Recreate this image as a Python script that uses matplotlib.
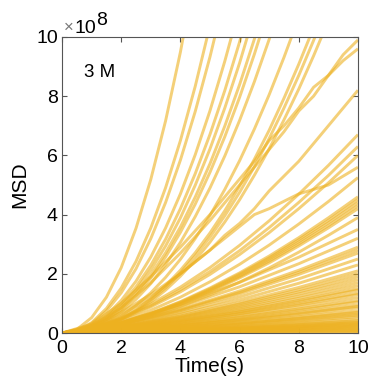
import matplotlib.pyplot as plt

plt.rcParams['font.family'] = ['Liberation Sans', 'DejaVu Sans']

# MSD traces in units of 1e8, grouped by how they were sampled
t_fast = [0, 0.5, 1, 1.5, 2, 2.5, 3, 3.5, 4, 4.5, 5, 5.5, 6, 6.5, 7, 7.5, 8, 8.5, 9]
msd_fast = [
    [0, 0.12, 0.52, 1.21, 2.21, 3.54, 5.19, 7.17, 9.49, 12.16],
    [0, 0.08, 0.35, 0.83, 1.52, 2.42, 3.55, 4.91, 6.50, 8.33, 10.39],
    [0, 0.07, 0.32, 0.74, 1.36, 2.17, 3.19, 4.41, 5.84, 7.48, 9.33, 11.39],
    [0, 0.06, 0.26, 0.60, 1.10, 1.75, 2.57, 3.55, 4.70, 6.02, 7.51, 9.18, 11.01],
    [0, 0.05, 0.23, 0.53, 0.98, 1.56, 2.29, 3.17, 4.20, 5.38, 6.71, 8.19, 9.83, 11.63],
    [0, 0.05, 0.21, 0.50, 0.91, 1.45, 2.13, 2.94, 3.89, 4.99, 6.22, 7.60, 9.12, 10.80],
    [0, 0.05, 0.19, 0.46, 0.84, 1.34, 1.96, 2.71, 3.58, 4.59, 5.72, 6.99, 8.39, 9.93, 11.60],
    [0, 0.04, 0.18, 0.43, 0.79, 1.27, 1.86, 2.57, 3.40, 4.35, 5.43, 6.63, 7.96, 9.42, 11.00],
    [0, 0.04, 0.17, 0.39, 0.71, 1.14, 1.67, 2.32, 3.06, 3.93, 4.90, 5.98, 7.18, 8.49, 9.92, 11.47],
    [0, 0.03, 0.14, 0.32, 0.58, 0.93, 1.36, 1.88, 2.49, 3.19, 3.97, 4.85, 5.82, 6.89, 8.05, 9.31, 10.66],
    [0, 0.03, 0.12, 0.27, 0.49, 0.79, 1.16, 1.60, 2.12, 2.71, 3.38, 4.13, 4.96, 5.87, 6.85, 7.93, 9.08, 10.31],
    [0, 0.03, 0.11, 0.26, 0.47, 0.76, 1.11, 1.53, 2.03, 2.60, 3.24, 3.96, 4.75, 5.62, 6.57, 7.60, 8.70, 9.88, 11.14],
    [0, 0.02, 0.10, 0.25, 0.45, 0.72, 1.05, 1.45, 1.92, 2.46, 3.07, 3.75, 4.50, 5.33, 6.22, 7.20, 8.24, 9.36, 10.55],
]

t_noisy = [0, 1, 2, 3, 4, 5, 5.5, 6, 6.5, 7, 7.5, 8, 8.5, 9, 9.5, 10]
msd_noisy = [
    [0, 0.30, 1.00, 1.90, 2.90, 4.00, 4.60, 5.20, 5.80, 6.50, 7.00, 7.60, 8.30, 8.70, 9.40, 9.90],
    [0, 0.25, 0.85, 1.70, 2.70, 3.80, 4.40, 5.00, 5.60, 6.20, 6.80, 7.50, 8.00, 8.70, 9.20, 9.60],
    [0, 0.15, 0.60, 1.20, 2.00, 2.80, 3.30, 3.70, 4.20, 4.80, 5.30, 5.80, 6.40, 7.00, 7.60, 8.20],
    [0, 0.20, 0.70, 1.30, 2.00, 2.80, 3.20, 3.60, 4.00, 4.20, 4.45, 4.70, 4.85, 5.00, 5.30, 5.60],
]

t_mid = [0, 1, 2, 3, 4, 5, 6, 7, 8, 9, 10]
msd_mid = [
    [0, 0.17, 0.51, 0.98, 1.55, 2.21, 2.96, 3.79, 4.69, 5.66, 6.70],
    [0, 0.16, 0.48, 0.92, 1.46, 2.08, 2.78, 3.56, 4.41, 5.32, 6.30],
    [0, 0.15, 0.46, 0.88, 1.39, 1.98, 2.65, 3.39, 4.20, 5.07, 6.00],
    [0, 0.13, 0.40, 0.77, 1.21, 1.73, 2.32, 2.97, 3.68, 4.44, 5.25],
    [0, 0.12, 0.35, 0.67, 1.06, 1.52, 2.03, 2.60, 3.22, 3.89, 4.60],
    [0, 0.11, 0.34, 0.66, 1.04, 1.49, 1.99, 2.54, 3.15, 3.80, 4.50],
    [0, 0.11, 0.33, 0.64, 1.02, 1.45, 1.94, 2.49, 3.08, 3.72, 4.40],
    [0, 0.11, 0.33, 0.63, 0.99, 1.42, 1.90, 2.43, 3.01, 3.63, 4.30],
    [0, 0.11, 0.32, 0.61, 0.97, 1.39, 1.86, 2.37, 2.94, 3.55, 4.20],
    [0, 0.10, 0.30, 0.57, 0.90, 1.29, 1.72, 2.20, 2.73, 3.30, 3.90],
]

t_slow = [0, 2, 4, 6, 8, 10]
msd_slow = [
    [0, 0.37, 0.97, 1.71, 2.56, 3.50],
    [0, 0.34, 0.89, 1.56, 2.34, 3.20],
    [0, 0.30, 0.80, 1.42, 2.12, 2.90],
    [0, 0.29, 0.78, 1.37, 2.05, 2.80],
    [0, 0.28, 0.75, 1.32, 1.98, 2.70],
    [0, 0.26, 0.69, 1.22, 1.83, 2.50],
    [0, 0.24, 0.64, 1.12, 1.68, 2.30],
    [0, 0.22, 0.58, 1.03, 1.54, 2.10],
    [0, 0.21, 0.55, 0.98, 1.46, 2.00],
    [0, 0.20, 0.53, 0.93, 1.39, 1.90],
    [0, 0.19, 0.50, 0.88, 1.32, 1.80],
    [0, 0.18, 0.47, 0.83, 1.24, 1.70],
    [0, 0.17, 0.44, 0.78, 1.17, 1.60],
    [0, 0.16, 0.42, 0.73, 1.10, 1.50],
    [0, 0.15, 0.40, 0.71, 1.06, 1.45],
    [0, 0.14, 0.37, 0.66, 0.99, 1.35],
    [0, 0.14, 0.36, 0.64, 0.95, 1.30],
    [0, 0.13, 0.33, 0.59, 0.88, 1.20],
    [0, 0.12, 0.30, 0.54, 0.81, 1.10],
    [0, 0.11, 0.29, 0.51, 0.77, 1.05],
    [0, 0.10, 0.26, 0.46, 0.70, 0.95],
    [0, 0.09, 0.25, 0.44, 0.66, 0.90],
    [0, 0.09, 0.24, 0.42, 0.62, 0.85],
    [0, 0.08, 0.21, 0.37, 0.55, 0.75],
    [0, 0.07, 0.19, 0.34, 0.51, 0.70],
    [0, 0.07, 0.18, 0.32, 0.48, 0.65],
    [0, 0.06, 0.17, 0.29, 0.44, 0.60],
    [0, 0.06, 0.15, 0.27, 0.40, 0.55],
    [0, 0.05, 0.13, 0.23, 0.35, 0.48],
    [0, 0.04, 0.12, 0.21, 0.31, 0.42],
    [0, 0.04, 0.11, 0.19, 0.28, 0.38],
    [0, 0.04, 0.10, 0.17, 0.26, 0.35],
    [0, 0.03, 0.09, 0.16, 0.23, 0.32],
    [0, 0.03, 0.08, 0.14, 0.21, 0.29],
    [0, 0.03, 0.07, 0.13, 0.19, 0.26],
    [0, 0.02, 0.06, 0.11, 0.17, 0.23],
    [0, 0.02, 0.06, 0.10, 0.15, 0.20],
    [0, 0.02, 0.05, 0.08, 0.12, 0.17],
    [0, 0.01, 0.04, 0.07, 0.10, 0.14],
    [0, 0.01, 0.03, 0.05, 0.08, 0.11],
    [0, 0.01, 0.02, 0.04, 0.06, 0.08],
    [0, 0.01, 0.01, 0.02, 0.04, 0.05],
    [0, 0.00, 0.01, 0.01, 0.01, 0.02],
]

x_ticks = [0, 2, 4, 6, 8, 10]
y_ticks = [0, 2, 4, 6, 8, 10]

line_color = '#EDB120'
axis_gray = '#555555'

fig = plt.figure(figsize=(3.76, 3.87), dpi=100)
ax = fig.add_axes([0.165, 0.1395, 0.787, 0.765])

groups = [(t_slow, msd_slow), (t_mid, msd_mid), (t_noisy, msd_noisy), (t_fast, msd_fast)]
for t, curves in groups:
    for vals in curves:
        ax.plot(t[:len(vals)], vals, color=line_color, lw=2.1, alpha=0.6,
                solid_capstyle='butt', solid_joinstyle='round')

ax.set_xlim(0, 10)
ax.set_ylim(0, 10)
ax.set_xticks(x_ticks)
ax.set_yticks(y_ticks)
ax.tick_params(direction='in', length=3.5, width=0.8, color=axis_gray,
               top=True, right=True, labelsize=14, labelcolor='black')
ax.tick_params(axis='x', pad=5)
ax.tick_params(axis='y', pad=3)
for sp in ax.spines.values():
    sp.set_color(axis_gray)
    sp.set_linewidth(0.8)

ax.set_xlabel('Time(s)', fontsize=15, labelpad=0)
ax.set_ylabel('MSD', fontsize=15, labelpad=5)

ax.text(0.75, 8.8, '3 M', fontsize=13.5, va='center', ha='left')

# exponent for the y axis
fig.text(64 / 376, 1 - 32 / 387, '\u00d7', fontsize=12, color='#777777', ha='left', va='baseline')
fig.text(74 / 376, 1 - 33 / 387, '10', fontsize=14, ha='left', va='baseline')
fig.text(96 / 376, 1 - 25 / 387, '8', fontsize=14, ha='left', va='baseline')

fig.savefig('out.png', dpi=100)
